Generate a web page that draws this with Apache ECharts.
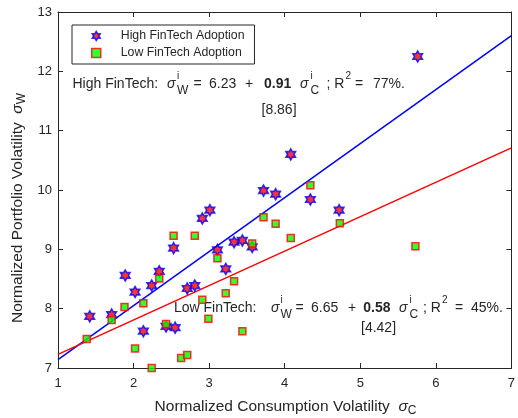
<!DOCTYPE html>
<html>
<head>
<meta charset="utf-8">
<script src="https://cdn.jsdelivr.net/npm/echarts@6.0.0/dist/echarts.min.js"></script>
<style>
  html, body { margin: 0; padding: 0; background: #fff; }
  #chart { width: 518px; height: 418px; }
</style>
</head>
<body>
<div id="chart"></div>
<script>
// consumption volatility (x) and portfolio volatility (y), one entry per country
var highX = [1.42, 1.71, 1.89, 2.02, 2.13, 2.24, 2.34, 2.43, 2.55, 2.53, 2.71, 2.81, 2.91, 3.01, 3.11, 3.22, 3.33, 3.44, 3.57, 3.72, 3.88, 4.08, 4.34, 4.72, 5.76];
var highY = [7.87, 7.90, 8.56, 8.28, 7.62, 8.39, 8.63, 7.70, 7.68, 9.02, 8.34, 8.39, 9.52, 9.66, 8.99, 8.67, 9.12, 9.15, 9.04, 9.99, 9.93, 10.60, 9.84, 9.66, 12.25];
var lowX = [1.38, 1.71, 1.88, 2.02, 2.13, 2.24, 2.34, 2.43, 2.53, 2.63, 2.71, 2.81, 2.91, 2.99, 3.11, 3.22, 3.33, 3.44, 3.57, 3.72, 3.88, 4.08, 4.34, 4.73, 5.73];
var lowY = [7.49, 7.81, 8.03, 7.33, 8.09, 7.00, 8.51, 7.74, 9.23, 7.17, 7.22, 9.23, 8.15, 7.83, 8.85, 8.26, 8.46, 7.62, 9.10, 9.54, 9.43, 9.19, 10.08, 9.44, 9.05];

// regression: [intercept, slope]
var highFit = [6.23, 0.91];
var lowFit = [6.65, 0.58];

var seriesNames = ['High FinTech Adoption', 'Low FinTech Adoption'];
var xTicks = [1, 7];   // min, max
var yTicks = [7, 13];

var ink = '#262626';
var font = 'Liberation Sans, Arial, sans-serif';
var hexagram = 'path://M50 0 L35.57 25 L6.7 25 L21.13 50 L6.7 75 L35.57 75 L50 100 L64.43 75 L93.3 75 L78.87 50 L93.3 25 L64.43 25 Z';

function pairs(xs, ys) {
  return xs.map(function (x, i) { return [x, ys[i]]; });
}
function fitLine(f) {
  return [[xTicks[0], f[0] + f[1] * xTicks[0]], [xTicks[1], f[0] + f[1] * xTicks[1]]];
}

var starStyle = { color: '#ff0000', borderColor: '#0000ff', borderWidth: 1.6 };
var squareStyle = { color: '#00ff00', borderColor: '#ff0000', borderWidth: 1.5 };

// text helper for the graphic layer
function t(x, y, text, size, extra) {
  var s = { text: text, x: x, y: y, font: size + 'px ' + font, fill: ink, verticalAlign: 'middle' };
  if (extra) for (var k in extra) s[k] = extra[k];
  return { type: 'text', silent: true, style: s };
}
function it(x, y, text, size) { return t(x, y, text, size, { font: 'italic ' + size + 'px ' + font }); }
function bold(x, y, text, size) { return t(x, y, text, size, { font: 'bold ' + size + 'px ' + font }); }

var chart = echarts.init(document.getElementById('chart'));

var axisCommon = {
  type: 'value',
  axisLine: { show: true, lineStyle: { color: ink, width: 1 } },
  axisTick: { show: true, inside: true, length: 5, lineStyle: { color: ink } },
  splitLine: { show: false }
};

var titleRich = {
  n: { font: '15.5px ' + font, fill: ink, lineHeight: 20, verticalAlign: 'middle' },
  s: { font: 'italic 15.5px ' + font, fill: ink, lineHeight: 20, verticalAlign: 'middle' },
  sub: { font: '12px ' + font, fill: ink, lineHeight: 20, verticalAlign: 'bottom', padding: [6, 0, 0, 0] }
};

var option = {
  animation: false,
  grid: { left: 58, right: 3, top: 12, bottom: 50 },
  xAxis: [
    Object.assign({}, axisCommon, {
      min: xTicks[0], max: xTicks[1], interval: 1, position: 'bottom',
      axisLabel: { color: ink, fontSize: 13, fontFamily: font, margin: 9 }
    }),
    Object.assign({}, axisCommon, {
      min: xTicks[0], max: xTicks[1], interval: 1, position: 'top',
      axisLabel: { show: false }
    })
  ],
  yAxis: [
    Object.assign({}, axisCommon, {
      min: yTicks[0], max: yTicks[1], interval: 1, position: 'left',
      axisLabel: { color: ink, fontSize: 13, fontFamily: font, margin: 6 }
    }),
    Object.assign({}, axisCommon, {
      min: yTicks[0], max: yTicks[1], interval: 1, position: 'right',
      axisLabel: { show: false }
    })
  ],
  legend: {
    orient: 'vertical',
    left: 72, top: 25,
    backgroundColor: '#fff',
    borderColor: ink, borderWidth: 1, borderRadius: 0,
    padding: [5, 10, 5, 19],
    itemWidth: 9, itemHeight: 9, itemGap: 5,
    textStyle: { color: ink, fontSize: 12.3, fontFamily: font, padding: [0, 0, 0, 15] },
    data: [
      { name: seriesNames[0], icon: hexagram, itemStyle: starStyle },
      { name: seriesNames[1], icon: 'rect', itemStyle: squareStyle }
    ]
  },
  series: [
    {
      name: 'highFit', type: 'line', data: fitLine(highFit), symbol: 'none',
      lineStyle: { color: '#0000ff', width: 1.5 }, silent: true, z: 2
    },
    {
      name: 'lowFit', type: 'line', data: fitLine(lowFit), symbol: 'none',
      lineStyle: { color: '#ff0000', width: 1.5 }, silent: true, z: 2
    },
    {
      name: seriesNames[0], type: 'scatter', data: pairs(highX, highY),
      symbol: hexagram, symbolSize: [9.5, 11], itemStyle: starStyle, clip: false, z: 3
    },
    {
      name: seriesNames[1], type: 'scatter', data: pairs(lowX, lowY),
      symbol: 'rect', symbolSize: 7, itemStyle: squareStyle, clip: false, z: 4
    }
  ],
  graphic: [
    // x axis title
    {
      type: 'text', silent: true, x: 285.5, y: 407,
      style: { text: '{n|Normalized Consumption Volatility  }{s|σ}{sub|C}', align: 'center', verticalAlign: 'middle', rich: titleRich }
    },
    // y axis title
    {
      type: 'text', silent: true, x: 18, y: 208, rotation: Math.PI / 2,
      style: { text: '{n|Normalized Portfolio Volatility  }{s|σ}{sub|W}', align: 'center', verticalAlign: 'middle', rich: titleRich }
    },
    // high FinTech equation
    t(72.5, 84, 'High FinTech:', 14),
    it(167, 84, 'σ', 14),
    t(177, 76, 'i', 10),
    t(177, 90.5, 'W', 12),
    t(193.5, 84, '=', 14),
    t(209, 84, '6.23', 14),
    t(245, 84, '+', 14),
    bold(264, 84, '0.91', 14),
    it(300, 84, 'σ', 14),
    t(310.5, 76, 'i', 10),
    t(310.5, 90.5, 'C', 12),
    t(326.5, 84, '; R', 14),
    t(345.5, 76, '2', 10),
    t(355, 84, '=', 14),
    t(373, 84, '77%.', 14),
    t(261.5, 110, '[8.86]', 14),
    // low FinTech equation
    t(174, 308.5, 'Low FinTech:', 14),
    it(271, 308.5, 'σ', 14),
    t(280.5, 300.5, 'i', 10),
    t(280.5, 315, 'W', 12),
    t(295.5, 308.5, '=', 14),
    t(311, 308.5, '6.65', 14),
    t(348, 308.5, '+', 14),
    bold(363.3, 308.5, '0.58', 14),
    it(399, 308.5, 'σ', 14),
    t(409.5, 300.5, 'i', 10),
    t(409.5, 315, 'C', 12),
    t(423, 308.5, '; R', 14),
    t(442, 300.5, '2', 10),
    t(455, 308.5, '=', 14),
    t(471, 308.5, '45%.', 14),
    t(361, 328, '[4.42]', 14)
  ]
};

chart.setOption(option);
window.addEventListener('resize', function () { chart.resize(); });
</script>
</body>
</html>
